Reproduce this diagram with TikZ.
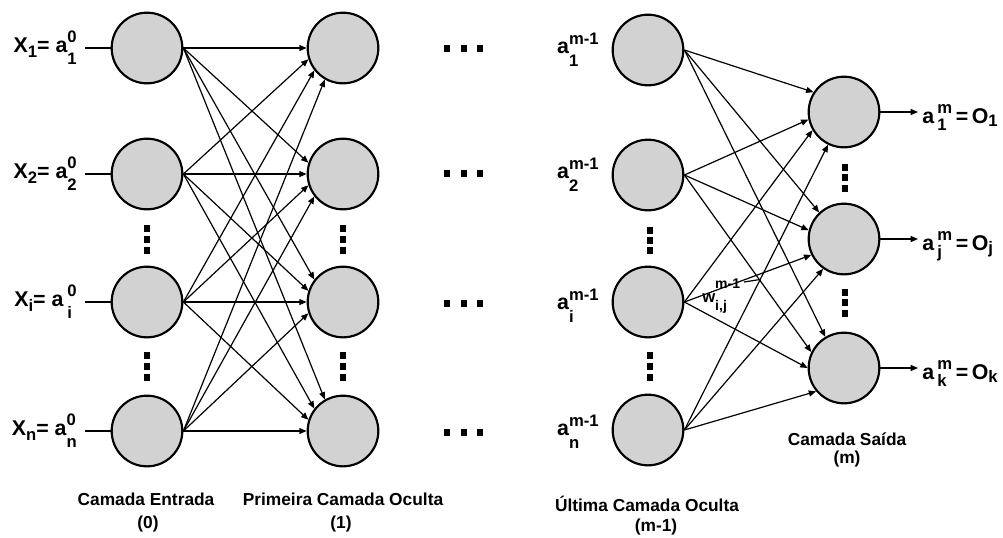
\documentclass[tikz,border=0pt]{standalone}
\usepackage{fontspec}
\setmainfont{Liberation Sans}
\usetikzlibrary{arrows.meta}
\definecolor{nodefill}{RGB}{210,210,210}
\newcommand{\scrf}{\fontsize{12.5}{12.5}\selectfont}
\newcommand{\Sub}[2]{{\scrf\raisebox{#1}{#2}}}
\newcommand{\SupSub}[4]{{\scrf\setbox0=\hbox{\raisebox{#1}{#3}}\setbox2=\hbox{\raisebox{#2}{#4}}\ifdim\wd0>\wd2\relax\rlap{\copy2}\copy0\else\rlap{\copy0}\copy2\fi}}
\begin{document}
\begin{tikzpicture}[x=0.75pt,y=-0.75pt,
  neuron/.style={circle,draw=black,line width=1.6pt,fill=nodefill,minimum size=53pt,inner sep=0pt},
  conn/.style={line width=0.9pt,-{Triangle[length=5.5pt,width=4.5pt]}},
  plain/.style={line width=0.9pt},
  lbl/.style={font=\fontsize{16}{16}\selectfont\bfseries,inner sep=0pt},
  captxt/.style={font=\fontsize{13}{13}\selectfont\bfseries,inner sep=0pt,anchor=base}]
\useasboundingbox (0,0) rectangle (1003,537);
\fill[white] (0,0) rectangle (1003,537);
% neurons
\foreach \n/\y in {1/48,2/174,3/302,4/431} {
  \node[neuron] (a\n) at (147,\y) {};
  \node[neuron] (b\n) at (343,\y) {};
}
\foreach \n/\y in {1/50,2/175,3/302,4/430} \node[neuron] (h\n) at (648,\y) {};
\foreach \n/\y in {1/112,2/239,3/368} \node[neuron] (o\n) at (844,\y) {};
% input -> first hidden
\foreach \s in {1,...,4} \foreach \t in {1,...,4} {
  \pgfmathtruncatemacro{\ang}{180+17*(\s-\t)+(\s-\t)*abs(\s-\t)}
  \draw[conn] (a\s.east) -- (b\t.\ang);
}
% last hidden -> output
\foreach \s/\t/\ang in {1/1/147,1/2/133,1/3/121,2/1/192,2/2/166,2/3/154,3/1/210,3/2/206,3/3/180,4/1/244,4/2/235,4/3/220}
  \draw[conn] (h\s.east) -- (o\t.\ang);
% input lines
\foreach \n/\y in {1/48,2/174,3/302,4/431} {
  \coordinate (in\n) at (85,\y);
  \draw[plain] (in\n) -- (a\n.west);
}
% output arrows
\foreach \n/\y in {1/112,2/239,3/368} {
  \coordinate (out\n) at (918,\y);
  \draw[conn] (o\n.east) -- (out\n);
}
% vertical dots
\foreach \x in {147,343} \foreach \y in {228,239,250,355,366,377}
  \fill (\x-3,\y-3.5) rectangle ++(6,7);
\foreach \y in {230,240,250,355,366,377}
  \fill (650-3,\y-3.5) rectangle ++(6,7);
\foreach \y in {167,177,188,292,302,313}
  \fill (845-3,\y-3.5) rectangle ++(6,7);
% horizontal dots
\foreach \y in {48,173,303,432} \foreach \x in {447,464,480}
  \fill (\x-3,\y-3.5) rectangle ++(6,7);
% input labels
\node[lbl,anchor=base east] (xl1) at (77,52) {X\Sub{-4pt}{1}= a\SupSub{7pt}{-9pt}{0}{1}};
\node[lbl,anchor=base east] (xl2) at (77,178) {X\Sub{-4pt}{2}= a\SupSub{7pt}{-9pt}{0}{2}};
\node[lbl,anchor=base east] (xl3) at (77,306) {X\Sub{-4pt}{i}= a\hspace{3pt}\SupSub{7pt}{-9pt}{0}{i}};
\node[lbl,anchor=base east] (xl4) at (77,435) {X\Sub{-4pt}{n}= a\SupSub{7pt}{-9pt}{0}{n}};
% last hidden labels
\node[lbl,anchor=base east] (hl1) at (599,53) {a\SupSub{6.5pt}{-10pt}{m-1}{1}};
\node[lbl,anchor=base east] (hl2) at (599,178) {a\SupSub{6.5pt}{-10pt}{m-1}{2}};
\node[lbl,anchor=base east] (hl3) at (599,309) {a\SupSub{6.5pt}{-10pt}{m-1}{i}};
\node[lbl,anchor=base east] (hl4) at (599,435) {a\SupSub{6.5pt}{-10pt}{m-1}{n}};
% output labels
\node[lbl,anchor=base west] (ol1) at (922,123) {a\hspace{2.5pt}\SupSub{7.5pt}{-5.5pt}{m}{1}\,=\,O\Sub{-2.5pt}{1}};
\node[lbl,anchor=base west] (ol2) at (922,250) {a\hspace{2.5pt}\SupSub{7.5pt}{-5.5pt}{m}{j}\,=\,O\Sub{-2.5pt}{j}};
\node[lbl,anchor=base west] (ol3) at (922,379) {a\hspace{2.5pt}\SupSub{7.5pt}{-5.5pt}{m}{k}\,=\,O\Sub{-2.5pt}{k}};
% weight label
\node[inner sep=0pt,anchor=base west,font=\fontsize{12.5}{12.5}\selectfont\bfseries] (wl) at (702,302)
  {{\def\scrf{\fontsize{10.5}{10.5}\selectfont}w\SupSub{10pt}{-6.5pt}{m-1}{i,j}}};
\coordinate (wa) at (744,282);
\coordinate (wx) at (760,279.5);
\draw[plain] (wa) -- (wx);
% captions
\node[captxt] (c0a) at (146,505) {Camada Entrada};
\node[captxt] (c0b) at (148,528) {(0)};
\node[captxt] (c1a) at (343,505) {Primeira Camada Oculta};
\node[captxt] (c1b) at (341,528) {(1)};
\node[captxt] (c2a) at (647,511) {Última Camada Oculta};
\node[captxt] (c2b) at (656,531) {(m-1)};
\node[captxt] (c3a) at (847,445) {Camada Saída};
\node[captxt] (c3b) at (847,463) {(m)};
\end{tikzpicture}
\end{document}
